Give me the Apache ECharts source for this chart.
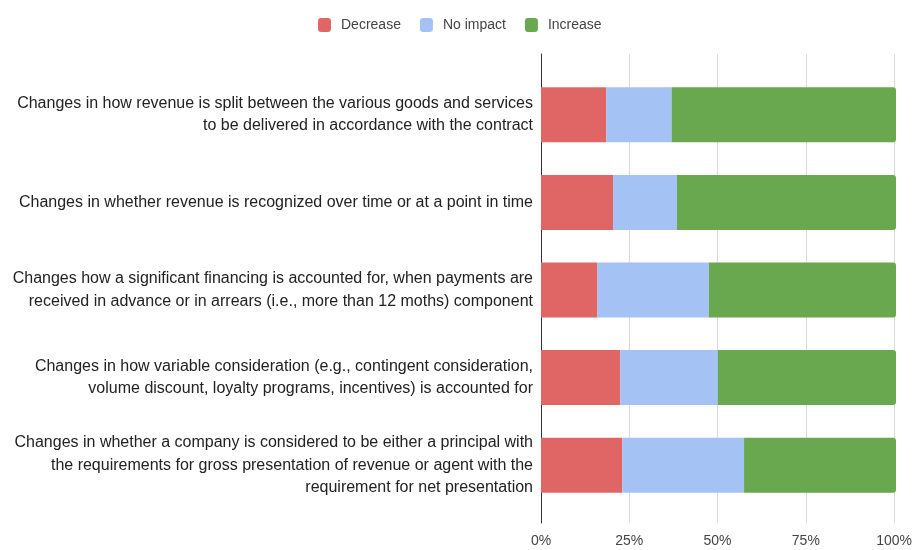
<!DOCTYPE html>
<html><head><meta charset="utf-8">
<script src="https://cdn.jsdelivr.net/npm/echarts@6/dist/echarts.min.js"></script>
<style>html,body{margin:0;padding:0;background:#fff}#c{width:915px;height:550px}</style>
</head><body><div id="c"></div>
<script>
const categories = [
  "Changes in how revenue is split between the various goods and services\nto be delivered in accordance with the contract",
  "Changes in whether revenue is recognized over time or at a point in time",
  "Changes how a significant financing is accounted for, when payments are\nreceived in advance or in arrears (i.e., more than 12 moths) component",
  "Changes in how variable consideration (e.g., contingent consideration,\nvolume discount, loyalty programs, incentives) is accounted for",
  "Changes in whether a company is considered to be either a principal with\nthe requirements for gross presentation of revenue or agent with the\nrequirement for net presentation"
];
const seriesNames = ["Decrease", "No impact", "Increase"];
const decrease = [18.4, 20.3, 15.9, 22.3, 22.9];
const noImpact = [18.4, 18.0, 31.4, 27.5, 34.3];
const increase = [63.2, 61.7, 52.7, 50.2, 42.8];
const tickValues = [0, 25, 50, 75, 100];
const colors = ["#E06666", "#A4C2F4", "#6AA84F"];

const FONT = '"Liberation Sans", Arial, sans-serif';
const chart = echarts.init(document.getElementById('c'), null, {renderer: 'canvas'});
const mk = (name, data, i, radius) => ({
  name, type: 'bar', stack: 'total', data,
  xAxisIndex: 1, yAxisIndex: 1, barWidth: 55,
  itemStyle: {color: colors[i], borderRadius: radius},
  emphasis: {disabled: true}
});
chart.setOption({
  animation: false,
  color: colors,
  legend: {
    top: 13, left: 313, itemWidth: 13, itemHeight: 14, itemGap: 19, icon: 'roundRect',
    data: seriesNames,
    textStyle: {fontFamily: FONT, fontSize: 14, color: '#444', padding: [0, 0, 0, 5]}
  },
  grid: [
    {left: 541, right: 19, top: 54, bottom: 27},
    {left: 541, right: 19, top: 71, bottom: 41}
  ],
  xAxis: [
    {gridIndex: 0, type: 'value', min: 0, max: 100, interval: 25,
     axisLine: {show: false}, axisTick: {show: false},
     splitLine: {lineStyle: {color: '#d9d9d9', width: 1}},
     axisLabel: {fontFamily: FONT, fontSize: 14, color: '#444', margin: 11,
       formatter: v => tickValues.includes(v) ? v + '%' : ''}},
    {gridIndex: 1, type: 'value', min: 0, max: 100, show: false}
  ],
  yAxis: [
    {gridIndex: 0, type: 'value', min: 0, max: 1,
     axisLine: {show: true, lineStyle: {color: '#333', width: 1}},
     axisTick: {show: false}, axisLabel: {show: false}, splitLine: {show: false}},
    {gridIndex: 1, type: 'category', inverse: true, data: categories,
     axisLine: {show: false}, axisTick: {show: false},
     axisLabel: {fontFamily: FONT, fontSize: 16, color: '#222', margin: 8,
       lineHeight: 22.5, align: 'right'}}
  ],
  series: [
    mk(seriesNames[0], decrease, 0, 0),
    mk(seriesNames[1], noImpact, 1, 0),
    mk(seriesNames[2], increase, 2, [0, 3, 3, 0])
  ]
});
</script></body></html>
